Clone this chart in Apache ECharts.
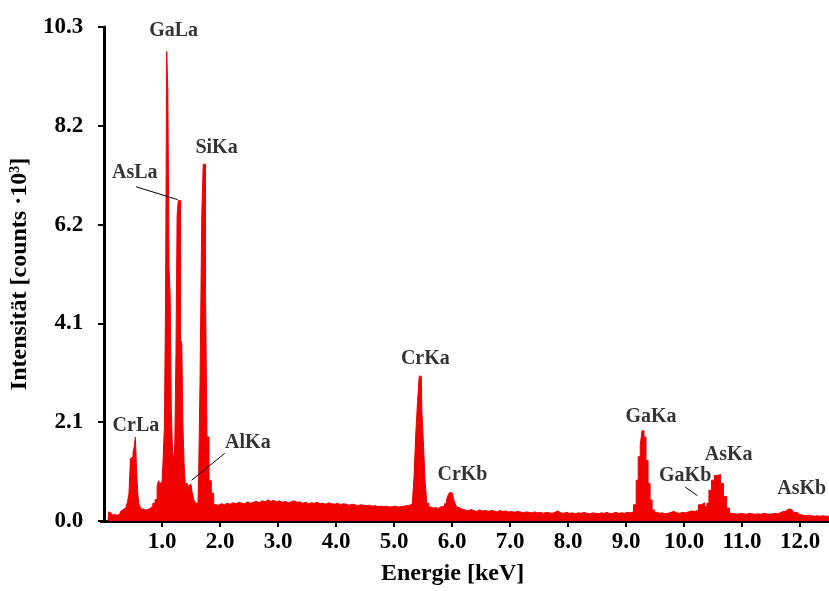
<!DOCTYPE html>
<html>
<head>
<meta charset="utf-8">
<script src="https://cdn.jsdelivr.net/npm/echarts@6/dist/echarts.min.js"></script>
<style>
  html, body { margin: 0; padding: 0; background: #fff; }
  #chart { width: 829px; height: 591px; }
</style>
</head>
<body>
<div id="chart"></div>
<script>
// Energie-Kanäle (keV) und Zählraten (x10^3)
const energy = [
  0.07, 0.09, 0.12, 0.15, 0.18, 0.21, 0.24, 0.27, 0.30, 0.33, 0.36, 0.39, 0.42, 0.44, 0.47, 0.49, 0.51, 0.53, 0.55, 0.57,
  0.59, 0.61, 0.63, 0.66, 0.70, 0.74, 0.78, 0.82, 0.86, 0.90, 0.93, 0.95, 0.97, 1.00, 1.03, 1.05, 1.07, 1.09, 1.11, 1.13,
  1.15, 1.17, 1.19, 1.21, 1.23, 1.25, 1.27, 1.29, 1.31, 1.33, 1.35, 1.37, 1.39, 1.41, 1.43, 1.45, 1.47, 1.50, 1.53, 1.56,
  1.59, 1.62, 1.64, 1.67, 1.70, 1.72, 1.74, 1.76, 1.79, 1.83, 1.87, 1.91,
  1.95, 2.00, 2.05, 2.10, 2.15, 2.20, 2.25, 2.30, 2.35, 2.40, 2.45, 2.50, 2.55, 2.60, 2.65, 2.70, 2.75, 2.80, 2.85, 2.90,
  2.95, 3.00, 3.05, 3.10, 3.15, 3.20, 3.25, 3.30, 3.35, 3.40, 3.45, 3.50, 3.55, 3.60, 3.65, 3.70, 3.75, 3.80, 3.85, 3.90,
  3.95, 4.00, 4.05, 4.10, 4.15, 4.20, 4.25, 4.30, 4.35, 4.40, 4.45, 4.50, 4.55, 4.60, 4.65, 4.70, 4.75, 4.80, 4.85, 4.90,
  4.95, 5.00, 5.05, 5.10, 5.15, 5.20, 5.25, 5.30, 5.33, 5.36, 5.39, 5.42, 5.45, 5.47, 5.49, 5.52, 5.55, 5.58, 5.62, 5.66,
  5.70, 5.74, 5.78, 5.82, 5.85, 5.89, 5.92, 5.95, 5.98, 6.01, 6.04, 6.07, 6.10, 6.14,
  6.20, 6.25, 6.30, 6.35, 6.40, 6.45, 6.50, 6.55, 6.60, 6.65, 6.70, 6.75, 6.80, 6.85, 6.90, 6.95, 7.00, 7.05, 7.10, 7.15,
  7.20, 7.25, 7.30, 7.35, 7.40, 7.45, 7.50, 7.55, 7.60, 7.65, 7.70, 7.75, 7.80, 7.85, 7.90, 7.95, 8.00, 8.05, 8.10, 8.15,
  8.20, 8.25, 8.30, 8.35, 8.40, 8.45, 8.50, 8.55, 8.60, 8.65, 8.70, 8.75, 8.80, 8.85, 8.90, 8.95, 9.00, 9.05, 9.10,
  9.16, 9.19, 9.23, 9.26, 9.29, 9.33, 9.36, 9.40, 9.43, 9.47, 9.52, 9.56, 9.60, 9.65, 9.70, 9.75, 9.80, 9.85, 9.90, 9.95,
  10.00, 10.05, 10.10, 10.16, 10.22, 10.28, 10.33, 10.38, 10.41, 10.45, 10.50, 10.55, 10.61, 10.65, 10.71, 10.76, 10.81,
  10.86, 10.90, 10.95, 11.00, 11.05, 11.10, 11.15, 11.20, 11.25, 11.30, 11.35, 11.40, 11.45, 11.50, 11.55, 11.60, 11.65,
  11.69, 11.76, 11.81, 11.86, 11.91, 11.99, 12.05, 12.10, 12.15, 12.20, 12.25, 12.30, 12.35, 12.40, 12.45, 12.50
];
const counts = [
  0.00, 0.19, 0.17, 0.12, 0.14, 0.12, 0.15, 0.14, 0.20, 0.24, 0.27, 0.30, 0.40, 0.58, 1.30, 1.34, 1.44, 1.55, 1.75, 1.09,
  0.58, 0.36, 0.30, 0.25, 0.23, 0.24, 0.27, 0.30, 0.37, 0.45, 0.72, 0.84, 0.78, 0.82, 1.19, 1.95, 4.52, 9.79, 8.97, 5.30,
  4.70, 2.30, 1.45, 1.30, 1.60, 3.50, 6.37, 6.68, 6.68, 3.78, 3.70, 2.00, 1.20, 0.78, 0.78, 0.58, 0.74, 0.76, 0.62, 0.45,
  0.38, 0.36, 0.90, 2.90, 6.39, 7.44, 7.44, 4.73, 1.75, 0.84, 0.58, 0.34,
  0.33, 0.36, 0.34, 0.37, 0.35, 0.38, 0.36, 0.39, 0.37, 0.36, 0.40, 0.37, 0.39, 0.41, 0.38, 0.42, 0.40, 0.44, 0.41, 0.43,
  0.40, 0.42, 0.39, 0.41, 0.38, 0.40, 0.42, 0.39, 0.40, 0.37, 0.39, 0.36, 0.38, 0.37, 0.39, 0.36, 0.37, 0.35, 0.38, 0.36,
  0.35, 0.37, 0.34, 0.36, 0.35, 0.33, 0.35, 0.34, 0.32, 0.34, 0.33, 0.32, 0.33, 0.31, 0.32, 0.30, 0.31, 0.30, 0.31, 0.29,
  0.30, 0.31, 0.29, 0.30, 0.31, 0.32, 0.33, 0.36, 0.40, 0.93, 1.81, 2.49, 3.02, 3.02, 2.28, 1.67, 0.84, 0.37, 0.29, 0.27,
  0.28, 0.26, 0.29, 0.30, 0.30, 0.36, 0.44, 0.55, 0.60, 0.58, 0.46, 0.36, 0.28, 0.25,
  0.23, 0.21, 0.24, 0.22, 0.20, 0.23, 0.21, 0.22, 0.20, 0.22, 0.21, 0.19, 0.22, 0.20, 0.21, 0.19, 0.20, 0.18, 0.20, 0.19,
  0.17, 0.19, 0.18, 0.17, 0.19, 0.17, 0.18, 0.16, 0.18, 0.17, 0.16, 0.18, 0.21, 0.17, 0.16, 0.18, 0.16, 0.17, 0.15, 0.17,
  0.16, 0.18, 0.16, 0.15, 0.17, 0.16, 0.15, 0.17, 0.16, 0.18, 0.15, 0.16, 0.18, 0.16, 0.17, 0.16, 0.18, 0.17, 0.19,
  0.34, 0.85, 1.34, 1.57, 1.88, 1.75, 1.26, 0.78, 0.44, 0.23, 0.18, 0.16, 0.17, 0.15, 0.16, 0.18, 0.20, 0.17, 0.16, 0.18,
  0.17, 0.19, 0.21, 0.20, 0.23, 0.34, 0.38, 0.30, 0.37, 0.64, 0.85, 0.95, 0.97, 0.78, 0.51, 0.27, 0.16,
  0.15, 0.14, 0.16, 0.15, 0.14, 0.16, 0.15, 0.14, 0.15, 0.14, 0.16, 0.15, 0.14, 0.15, 0.16, 0.15, 0.18,
  0.20, 0.21, 0.25, 0.24, 0.18, 0.14, 0.12, 0.11, 0.12, 0.11, 0.10, 0.11, 0.10, 0.11, 0.10, 0.10
];

// Beschriftung der Linien
const peakNames = ['GaLa', 'AsLa', 'SiKa', 'CrLa', 'AlKa', 'CrKa', 'CrKb', 'GaKa', 'GaKb', 'AsKa', 'AsKb'];
const peakLabelPos = [
  [1.20, 10.22], [0.53, 7.26], [1.94, 7.79], [0.55, 1.99], [2.48, 1.64], [5.54, 3.39],
  [6.18, 0.97], [9.43, 2.18], [10.02, 0.95], [10.77, 1.38], [12.03, 0.68]
];
// Hinweislinien: [von, bis]
const leaderLines = [
  [[0.55, 6.97], [1.27, 6.70]],
  [[2.08, 1.41], [1.51, 0.85]],
  [[10.02, 0.71], [10.23, 0.53]]
];

const xTicks = [1, 2, 3, 4, 5, 6, 7, 8, 9, 10, 11, 12];
const yMax = 10.3;

const FONT = '"Liberation Serif", "Times New Roman", serif';

const chart = echarts.init(document.getElementById('chart'), null, { renderer: 'canvas' });

const spectrum = energy.map((e, i) => [e, counts[i]]);
const labelData = peakNames.map((n, i) => ({ name: n, value: peakLabelPos[i] }));

const option = {
  animation: false,
  grid: { left: 100, right: 0, top: 27, bottom: 63, containLabel: false },
  xAxis: {
    type: 'value',
    min: -0.05,
    max: 12.5,
    name: 'Energie [keV]',
    nameLocation: 'middle',
    nameGap: 41,
    nameTextStyle: { fontFamily: FONT, fontWeight: 'bold', fontSize: 24, color: '#000', padding: [0, 25, 0, 0] },
    axisLine: { show: true, onZero: false, lineStyle: { color: '#000', width: 3 } },
    axisTick: { show: true, inside: false, length: 6, customValues: xTicks, lineStyle: { color: '#000', width: 2 } },
    axisLabel: {
      customValues: xTicks,
      formatter: v => v.toFixed(1),
      fontFamily: FONT, fontWeight: 'bold', fontSize: 23, color: '#000', margin: 10
    },
    splitLine: { show: false }
  },
  yAxis: {
    type: 'value',
    min: 0,
    max: yMax,
    interval: yMax / 5,
    name: '{a|Intensität [counts ·10}{s|3}{a|]}',
    nameLocation: 'middle',
    nameGap: 62,
    nameRotate: 90,
    nameTextStyle: {
      rich: {
        a: { fontFamily: FONT, fontWeight: 'bold', fontSize: 24, color: '#000' },
        s: { fontFamily: FONT, fontWeight: 'bold', fontSize: 14, color: '#000', verticalAlign: 'top', padding: [0, 0, 10, 0] }
      }
    },
    axisLine: { show: true, lineStyle: { color: '#000', width: 3 } },
    axisTick: { show: true, inside: false, length: 6, lineStyle: { color: '#000', width: 2 } },
    axisLabel: {
      formatter: v => v.toFixed(1),
      fontFamily: FONT, fontWeight: 'bold', fontSize: 23, color: '#000', margin: 18
    },
    splitLine: { show: false }
  },
  series: [
    {
      type: 'line',
      data: spectrum,
      step: 'middle',
      showSymbol: false,
      symbol: 'none',
      lineStyle: { color: '#f00000', width: 1 },
      areaStyle: { color: '#f00000', opacity: 1 },
      z: 2,
      markLine: {
        silent: true,
        symbol: ['none', 'none'],
        label: { show: false },
        lineStyle: { color: '#000', width: 1, type: 'solid' },
        data: leaderLines.map(l => [{ coord: l[0] }, { coord: l[1] }])
      }
    },
    {
      type: 'scatter',
      data: labelData,
      symbolSize: 0,
      silent: true,
      z: 5,
      label: {
        show: true,
        position: 'inside',
        formatter: p => p.name,
        fontFamily: FONT, fontWeight: 'bold', fontSize: 20, color: '#000'
      }
    }
  ]
};

chart.setOption(option);
</script>
</body>
</html>
